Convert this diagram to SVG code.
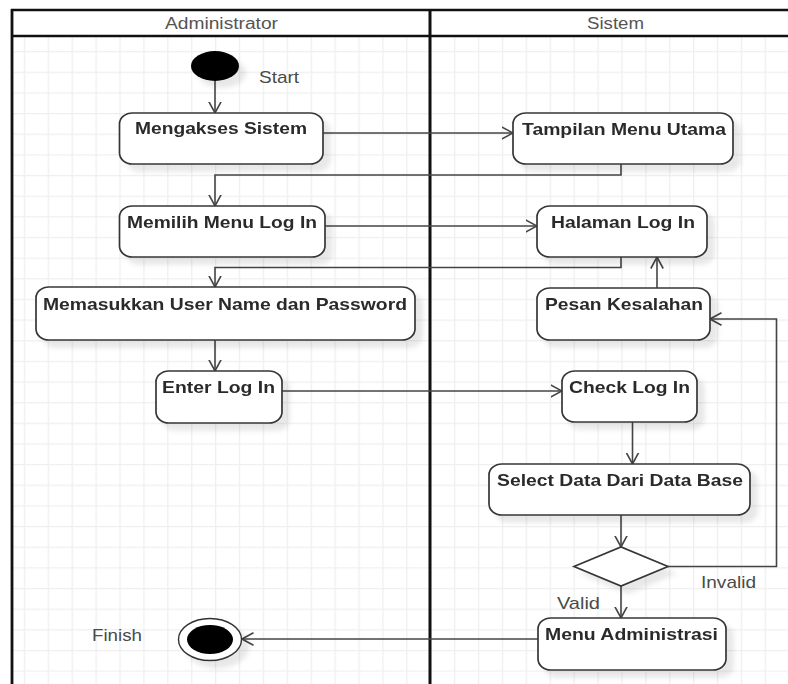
<svg xmlns="http://www.w3.org/2000/svg" width="788" height="684" viewBox="0 0 788 684">
  <defs>
    <style>
      .act { fill: #ffffff; stroke: #363636; stroke-width: 1.7; }
      .lbl { font-family: "Liberation Sans", Arial, sans-serif; font-size: 17px; font-weight: bold; fill: #2c2c2c; }
      .txt { font-family: "Liberation Sans", Arial, sans-serif; font-size: 17px; fill: #4a4a4a; }
      .lane { font-family: "Liberation Sans", Arial, sans-serif; font-size: 16px; fill: #555555; }
      .edge { fill: none; stroke: #444444; stroke-width: 1.6; marker-end: url(#open); }
      .frame { fill: none; stroke: #111111; }
    </style>
    <pattern id="grid" patternUnits="userSpaceOnUse" x="23.8" y="30.4" width="23.9" height="20.65">
      <rect width="23.9" height="20.65" fill="#ffffff"/>
      <path d="M0.6,0 V20.65 M0,0.6 H23.9" stroke="#efefef" stroke-width="1.3" fill="none"/>
    </pattern>
    <filter id="sh" x="-20%" y="-20%" width="150%" height="160%">
      <feGaussianBlur in="SourceAlpha" stdDeviation="2.5"/>
      <feOffset dx="7" dy="7" result="b"/>
      <feFlood flood-color="#000000" flood-opacity="0.09"/>
      <feComposite in2="b" operator="in"/>
      <feMerge>
        <feMergeNode/>
        <feMergeNode in="SourceGraphic"/>
      </feMerge>
    </filter>
    <marker id="open" markerUnits="userSpaceOnUse" viewBox="0 0 12 14" refX="11.5" refY="7" markerWidth="12" markerHeight="14" orient="auto">
      <path d="M0,0.8 L11.5,7 L0,13.2" fill="none" stroke="#444444" stroke-width="1.6"/>
    </marker>
  </defs>

  <!-- canvas and swimlane frame -->
  <rect width="788" height="684" fill="#ffffff"/>
  <rect x="12" y="36" width="776" height="648" fill="url(#grid)"/>
  <g id="swimlanes">
    <line class="frame" x1="11" y1="10" x2="788" y2="10" stroke-width="2.5"/>
    <line class="frame" x1="11" y1="36" x2="788" y2="36" stroke-width="2.5"/>
    <line class="frame" x1="12" y1="9" x2="12" y2="684" stroke-width="2.8"/>
    <line class="frame" x1="430" y1="9" x2="430" y2="684" stroke-width="3"/>
    <text class="lane" x="221.5" y="29" text-anchor="middle" textLength="113" lengthAdjust="spacingAndGlyphs">Administrator</text>
    <text class="lane" x="615.5" y="29" text-anchor="middle" textLength="57" lengthAdjust="spacingAndGlyphs">Sistem</text>
  </g>

  <!-- connectors -->
  <g id="connectors">
    <path class="edge" d="M215,81 V113"/>
    <path class="edge" d="M323,133 H513"/>
    <path class="edge" d="M621,164 V175 H215 V206"/>
    <path class="edge" d="M325,226 H537"/>
    <path class="edge" d="M621,257 V267.5 H215 V287"/>
    <path class="edge" d="M215,340 V371"/>
    <path class="edge" d="M282,391 H562"/>
    <path class="edge" d="M632.5,422 V464"/>
    <path class="edge" d="M621,515 V547"/>
    <path class="edge" d="M668,566.5 H776.5 V319 H710"/>
    <path class="edge" d="M657,288 V257"/>
    <path class="edge" d="M621,586 V618"/>
    <path class="edge" d="M538,639 H242"/>
    <text class="txt" x="701" y="588" textLength="55" lengthAdjust="spacingAndGlyphs">Invalid</text>
    <text class="txt" x="557" y="609" textLength="43" lengthAdjust="spacingAndGlyphs">Valid</text>
  </g>

  <!-- start -->
  <g id="start">
    <ellipse cx="215" cy="66" rx="24" ry="15" fill="#000000" filter="url(#sh)"/>
    <text class="txt" x="259" y="83" textLength="40" lengthAdjust="spacingAndGlyphs">Start</text>
  </g>

  <!-- Administrator lane -->
  <g id="mengakses-sistem" filter="url(#sh)">
    <rect class="act" x="119.5" y="113" width="203.5" height="51" rx="13" ry="11"/>
    <text class="lbl" x="221" y="134" text-anchor="middle" textLength="172" lengthAdjust="spacingAndGlyphs">Mengakses Sistem</text>
  </g>
  <g id="memilih-menu-login" filter="url(#sh)">
    <rect class="act" x="119.5" y="206" width="205.5" height="51" rx="13" ry="11"/>
    <text class="lbl" x="222" y="228" text-anchor="middle" textLength="190" lengthAdjust="spacingAndGlyphs">Memilih Menu Log In</text>
  </g>
  <g id="memasukkan-user" filter="url(#sh)">
    <rect class="act" x="36" y="287" width="379" height="53" rx="13" ry="11"/>
    <text class="lbl" x="225" y="310" text-anchor="middle" textLength="364" lengthAdjust="spacingAndGlyphs">Memasukkan User Name dan Password</text>
  </g>
  <g id="enter-login" filter="url(#sh)">
    <rect class="act" x="156" y="371" width="126" height="52" rx="13" ry="11"/>
    <text class="lbl" x="218.5" y="393" text-anchor="middle" textLength="113" lengthAdjust="spacingAndGlyphs">Enter Log In</text>
  </g>

  <!-- Sistem lane -->
  <g id="tampilan-menu-utama" filter="url(#sh)">
    <rect class="act" x="513" y="113" width="220" height="51" rx="13" ry="11"/>
    <text class="lbl" x="624" y="135" text-anchor="middle" textLength="204" lengthAdjust="spacingAndGlyphs">Tampilan Menu Utama</text>
  </g>
  <g id="halaman-login" filter="url(#sh)">
    <rect class="act" x="537" y="206" width="170" height="51" rx="13" ry="11"/>
    <text class="lbl" x="623" y="227.5" text-anchor="middle" textLength="144" lengthAdjust="spacingAndGlyphs">Halaman Log In</text>
  </g>
  <g id="pesan-kesalahan" filter="url(#sh)">
    <rect class="act" x="537" y="288" width="173" height="52" rx="13" ry="11"/>
    <text class="lbl" x="624" y="310" text-anchor="middle" textLength="158" lengthAdjust="spacingAndGlyphs">Pesan Kesalahan</text>
  </g>
  <g id="check-login" filter="url(#sh)">
    <rect class="act" x="562" y="371" width="135" height="51" rx="13" ry="11"/>
    <text class="lbl" x="629.5" y="393" text-anchor="middle" textLength="121" lengthAdjust="spacingAndGlyphs">Check Log In</text>
  </g>
  <g id="select-data" filter="url(#sh)">
    <rect class="act" x="489" y="464" width="261" height="51" rx="13" ry="11"/>
    <text class="lbl" x="620" y="486" text-anchor="middle" textLength="246" lengthAdjust="spacingAndGlyphs">Select Data Dari Data Base</text>
  </g>
  <g id="decision" filter="url(#sh)">
    <polygon class="act" points="574,566.5 621,547 668,566.5 621,586"/>
  </g>
  <g id="menu-administrasi" filter="url(#sh)">
    <rect class="act" x="538" y="618" width="188" height="52" rx="13" ry="11"/>
    <text class="lbl" x="631.5" y="640" text-anchor="middle" textLength="173" lengthAdjust="spacingAndGlyphs">Menu Administrasi</text>
  </g>

  <!-- finish -->
  <g id="finish">
    <ellipse cx="210" cy="639.5" rx="31.5" ry="21" fill="#ffffff" stroke="#333333" stroke-width="1.4" filter="url(#sh)"/>
    <ellipse cx="210" cy="639.5" rx="23" ry="14.5" fill="#000000"/>
    <text class="txt" x="92" y="641" textLength="50" lengthAdjust="spacingAndGlyphs">Finish</text>
  </g>
</svg>
